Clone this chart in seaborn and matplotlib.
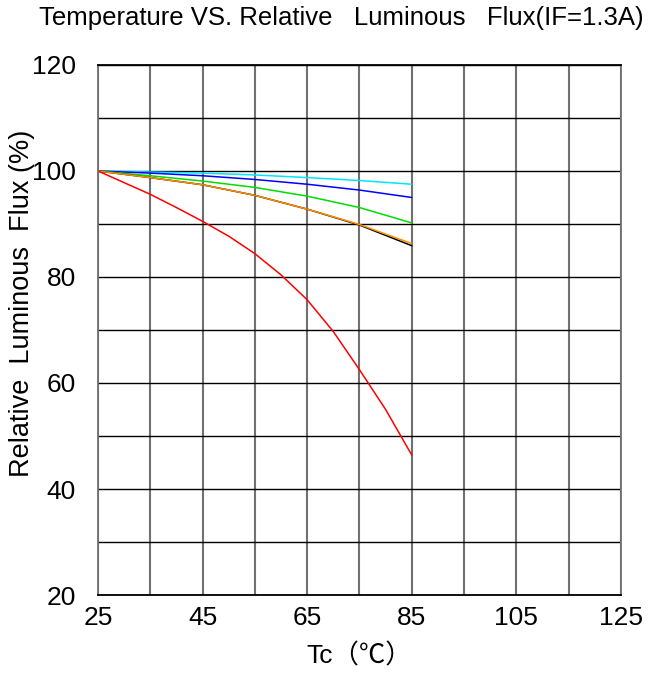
import numpy as np
import pandas as pd
import matplotlib
matplotlib.use("Agg")
import matplotlib.pyplot as plt
import seaborn as sns

# data (Tc in degC, relative flux in %)
tc = [25, 35, 45, 55, 65, 75, 85]
flux_cyan = [100, 99.8, 99.6, 99.25, 98.75, 98.2, 97.5]
flux_blue = [100, 99.6, 99.1, 98.4, 97.5, 96.4, 95.0]
flux_green = [100, 99.1, 98.1, 96.9, 95.25, 93.1, 90.2]
flux_black = [100, 98.75, 97.4, 95.4, 92.8, 89.8, 85.9]
flux_orange = [100, 98.75, 97.4, 95.4, 92.8, 89.9, 86.3]

tc_red = [25, 30, 35, 40, 45, 50, 55, 60, 65, 70, 75, 80, 85]
flux_red = [100, 97.8, 95.6, 93.1, 90.5, 87.7, 84.4, 80.4, 75.7, 69.7, 62.5, 55.0, 46.4]

x_ticks = [25, 45, 65, 85, 105, 125]
x_grid = [35, 55, 75, 95, 115]
y_ticks = [20, 40, 60, 80, 100, 120]
y_grid = [30, 50, 70, 90, 110]

series = {"cyan": flux_cyan, "blue": flux_blue, "green": flux_green,
          "black": flux_black, "orange": flux_orange}
colors = {"cyan": "#00e5ff", "blue": "#0000ff", "green": "#00dd00",
          "black": "#000000", "orange": "#ff8c00", "red": "#ff0000"}

rows = []
for name, vals in series.items():
    for x, y in zip(tc, vals):
        rows.append({"Tc": x, "flux": y, "curve": name})
for x, y in zip(tc_red, flux_red):
    rows.append({"Tc": x, "flux": y, "curve": "red"})
df = pd.DataFrame(rows)

sns.set_style("white")
plt.rcParams["font.family"] = ["Liberation Sans", "Noto Sans CJK SC", "DejaVu Sans"]
plt.rcParams["text.color"] = "black"
plt.rcParams["axes.labelcolor"] = "black"
plt.rcParams["xtick.color"] = "black"
plt.rcParams["ytick.color"] = "black"

fig = plt.figure(figsize=(6.51, 6.74), dpi=100)
ax = fig.add_axes([0.1505, 0.1172, 0.8034, 0.7864])

sns.lineplot(data=df, x="Tc", y="flux", hue="curve", palette=colors,
             hue_order=["cyan", "blue", "green", "black", "orange", "red"],
             linewidth=1.1, legend=False, ax=ax, estimator=None, sort=True)

ax.set_xlim(25, 125)
ax.set_ylim(20, 120)
ax.set_xticks(x_ticks)
ax.set_xticks(x_grid, minor=True)
ax.set_yticks(y_ticks)
ax.set_yticks(y_grid, minor=True)
ax.grid(True, which="both", axis="x", color="#707070", linewidth=1.5)
ax.grid(True, which="both", axis="y", color="black", linewidth=1.0)
ax.set_axisbelow(True)
ax.tick_params(which="both", length=0, labelsize=19, labelcolor="black")
ax.tick_params(axis="y", pad=16)
ax.tick_params(axis="x", pad=8)

for side, col in [("left", "#707070"), ("right", "#707070"),
                  ("top", "black"), ("bottom", "black")]:
    ax.spines[side].set_visible(True)
    ax.spines[side].set_color(col)
    ax.spines[side].set_linewidth(1.3)

ax.set_xlabel("Tc（℃）", fontsize=19, va="center")
ax.xaxis.set_label_coords(0.5, -0.115)
ax.set_ylabel("Relative  Luminous  Flux (%)", fontsize=19.5, va="center")
ax.yaxis.set_label_coords(-0.145, 0.551)

fig.text(0.525, 0.973, "Temperature VS. Relative   Luminous   Flux(IF=1.3A)",
         ha="center", va="center", fontsize=18.5)

fig.savefig("out.png", dpi=100)
